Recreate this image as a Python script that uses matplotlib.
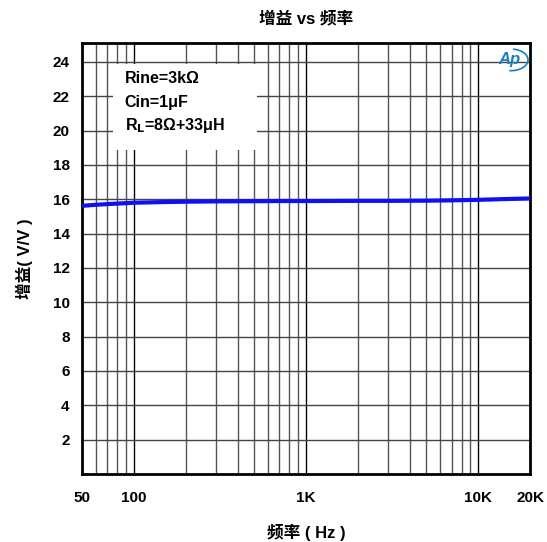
import matplotlib
matplotlib.use("Agg")
import matplotlib.pyplot as plt
from matplotlib.patches import Rectangle, Arc
import numpy as np

plt.rcParams['font.family'] = ['Liberation Sans', 'Noto Sans CJK SC', 'DejaVu Sans']

freq = [50, 60, 70, 80, 100, 150, 200, 300, 500, 700, 1000, 2000, 3000, 5000, 7000, 10000, 15000, 20000]
gain = [15.62, 15.68, 15.72, 15.75, 15.80, 15.84, 15.86, 15.88, 15.89, 15.90, 15.90, 15.91, 15.91, 15.92, 15.94, 15.97, 16.02, 16.05]

xticks = [50, 100, 1000, 10000, 20000]
xticklabels = ['50', '100', '1K', '10K', '20K']
yticks = [2, 4, 6, 8, 10, 12, 14, 16, 18, 20, 22, 24]

fig = plt.figure(figsize=(5.47, 5.42), dpi=100)
ax = fig.add_axes([0.150, 0.1255, 0.819, 0.795])
ax.set_xscale('log')
ax.set_xlim(50, 20000)
ax.set_ylim(0, 25.1)

# grid
vgrid = [60, 70, 80, 90, 100, 200, 300, 400, 500, 600, 700, 800, 900, 1000,
         2000, 3000, 4000, 5000, 6000, 7000, 8000, 9000, 10000]
for v in vgrid:
    c = 'black' if v in (100, 1000, 10000) else '#555555'
    ax.axvline(v, color=c, lw=1.0, zorder=1)
for y in yticks:
    ax.axhline(y, color='#444444', lw=1.0, zorder=1)

# text box with white background covering grid
ax.add_patch(Rectangle((0.070, 0.752), 0.32, 0.200, transform=ax.transAxes,
                       facecolor='white', edgecolor='none', zorder=2))
ax.text(0.095, 0.918, 'Rine=3kΩ', transform=ax.transAxes, fontsize=11.5,
        fontweight='bold', va='center', zorder=3)
ax.text(0.095, 0.863, 'Cin=1μF', transform=ax.transAxes, fontsize=11.5,
        fontweight='bold', va='center', zorder=3)
ax.text(0.095, 0.808, r'R$_\mathbf{L}$=8Ω+33μH', transform=ax.transAxes, fontsize=11.5,
        fontweight='bold', va='center', zorder=3)

ax.plot(freq, gain, color='#1010f0', lw=3.0, zorder=4, solid_capstyle='butt')

# logo
ax.text(0.955, 0.963, 'Ap', transform=ax.transAxes, fontsize=12, style='italic',
        color='#1a7fc4', ha='center', va='center', zorder=5, fontweight='bold')
ax.add_patch(Arc((0.958, 0.961), 0.075, 0.05, angle=0, theta1=-100, theta2=80,
                 transform=ax.transAxes, color='#1a7fc4', lw=1.2, zorder=5))

ax.set_xticks(xticks)
ax.set_xticklabels(xticklabels)
ax.xaxis.set_minor_locator(matplotlib.ticker.NullLocator())
ax.set_yticks(yticks)
ax.tick_params(length=0, labelsize=11)
ax.tick_params(axis='x', pad=12)
ax.tick_params(axis='y', pad=9)
for lab in ax.get_xticklabels() + ax.get_yticklabels():
    lab.set_fontweight('bold')
for s in ax.spines.values():
    s.set_linewidth(2)

ax.set_title('增益 vs 频率', fontsize=12, fontweight='bold', pad=14)
ax.set_xlabel('频率 ( Hz )', fontsize=12, fontweight='bold', labelpad=14)
ax.set_ylabel('增益( V/V )', fontsize=12, fontweight='bold', labelpad=14)

fig.savefig('out.png', dpi=100)
